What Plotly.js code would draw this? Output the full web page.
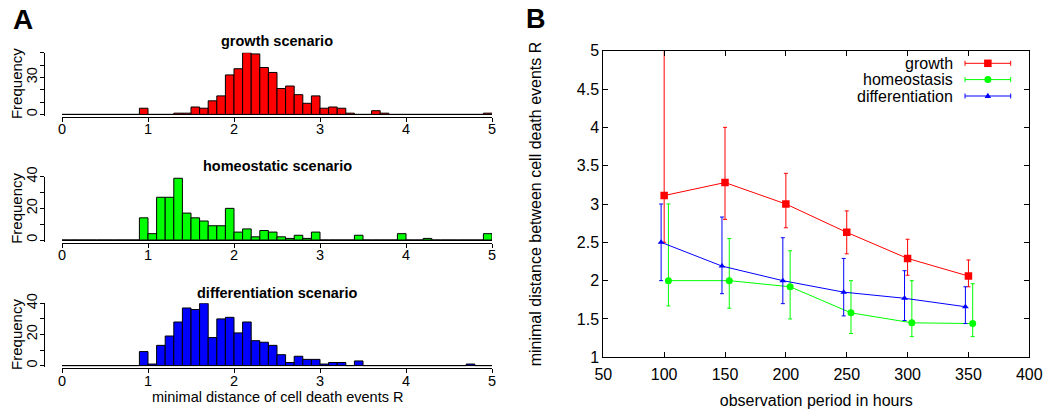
<!DOCTYPE html>
<html><head><meta charset="utf-8">
<script src="https://cdn.plot.ly/plotly-3.0.1.min.js"></script>
<style>html,body{margin:0;padding:0;background:#fff;} #chart{width:1048px;height:410px;}</style>
</head><body><div id="chart"></div>
<script>
// ---------------- Panel A: histogram counts (50 bins of width 0.1, from 0 to 5) ----------------
const binWidth = 0.1;
const growthCounts = [
  0,0,0,0,0,0,0,0,0,5,
  0,0,0,1,1,6,5,11,15,32,
  37,50,49,38,34,21,23,16,9,15,
  5,6,5,1,0,0,3,1,0,0,
  0,0,0,0,0,0,0,0,0,1];
const homeostaticCounts = [
  0,0,0,0,0,0,0,0,0,14,
  4,27,27,39,17,14,12,9,9,20,
  5,7,2,6,5,2,1,3,1,5,
  0,0,0,0,3,0,0,0,0,4,
  0,0,1,0,0,0,0,0,0,4];
const differentiationCounts = [
  0,0,0,0,0,0,0,0,0,9,
  1,13,19,28,37,36,40,18,30,31,
  21,28,16,15,13,7,2,6,4,4,
  1,2,2,0,3,0,0,0,0,0,
  0,0,0,0,0,0,0,1,0,0];
const histTitles = ['growth scenario', 'homeostatic scenario', 'differentiation scenario'];
const histXTicks = [0, 1, 2, 3, 4, 5];
const growthYTicks = [0, 10, 20, 30, 40, 50];
const growthYLabels = ['0', '', '', '30', '', ''];
const otherYTicks = [0, 10, 20, 30, 40];
const otherYLabels = ['0', '', '20', '', '40'];
const histYTitle = 'Frequency';
const histXTitle = 'minimal distance of cell death events R';

// ---------------- Panel B: mean minimal distance vs observation period ----------------
const seriesNames = ['growth', 'homeostasis', 'differentiation'];
const growthHours = [100, 150, 200, 250, 300, 350];
const growthR     = [3.11, 3.28, 3.00, 2.63, 2.29, 2.06];
const growthHigh  = [5.60, 4.00, 3.40, 2.91, 2.54, 2.27];
const growthLow   = [2.50, 2.80, 2.69, 2.35, 2.07, 1.92];
const homeoHours  = [103.5, 153.5, 203.5, 253.5, 303.5, 353.5];
const homeoR      = [2.00, 2.00, 1.92, 1.58, 1.45, 1.44];
const homeoHigh   = [3.00, 2.55, 2.39, 2.00, 2.00, 1.96];
const homeoLow    = [1.67, 1.64, 1.50, 1.31, 1.27, 1.27];
const diffHours   = [97.5, 147.5, 197.5, 247.5, 297.5, 347.5];
const diffR       = [2.50, 2.19, 2.00, 1.85, 1.77, 1.66];
const diffHigh    = [3.00, 2.83, 2.56, 2.29, 2.13, 1.92];
const diffLow     = [2.00, 1.83, 1.70, 1.54, 1.48, 1.44];

// ---------------- helpers (layout only) ----------------
const W = 1048, H = 410;
const px = v => v / W;
const py = v => (H - v) / H;
const FONT = 'Liberation Sans, Arial, Helvetica, sans-serif';
const RED = '#ff0000', GREEN = '#00ff00', BLUE = '#0000ff';

const hists = [
  {counts: growthCounts, color: RED, xa: 'x', ya: 'y', base: 114.4, top: 52.7, ymax: 50,
   tv: growthYTicks, tt: growthYLabels, titleY: 40.7},
  {counts: homeostaticCounts, color: GREEN, xa: 'x2', ya: 'y2', base: 240, top: 176.7, ymax: 40,
   tv: otherYTicks, tt: otherYLabels, titleY: 165.7},
  {counts: differentiationCounts, color: BLUE, xa: 'x3', ya: 'y3', base: 365.6, top: 303.3, ymax: 40,
   tv: otherYTicks, tt: otherYLabels, titleY: 292.7}
];

const data = [];
const layout = {
  width: W, height: H,
  margin: {l: 0, r: 0, t: 0, b: 0},
  paper_bgcolor: '#fff', plot_bgcolor: 'rgba(0,0,0,0)',
  font: {family: FONT, color: '#000', size: 14.5},
  showlegend: false,
  bargap: 0,
  annotations: [], shapes: []
};

const histLeft = 62, histRight = 492, histYAxisX = 44;
hists.forEach((h, k) => {
  const centers = h.counts.map((_, i) => (i + 0.5) * binWidth);
  data.push({
    type: 'bar', x: centers, y: h.counts, width: binWidth,
    xaxis: h.xa, yaxis: h.ya,
    marker: {color: h.color, line: {color: '#000', width: 1}},
    hoverinfo: 'x+y'
  });
  const pxPerCount = (h.base - h.top) / h.ymax;
  const yLow = -0.03 * h.ymax;
  const bottomPx = h.base - yLow * pxPerCount;
  const xName = k === 0 ? 'xaxis' : 'xaxis' + (k + 1);
  const yName = k === 0 ? 'yaxis' : 'yaxis' + (k + 1);
  layout[xName] = {
    domain: [px(histLeft), px(histRight)], range: [0, 5],
    anchor: 'free', position: py(h.base + 2.6),
    showline: true, linecolor: '#000', linewidth: 1,
    ticks: 'outside', ticklen: 4, tickwidth: 1, tickcolor: '#000',
    tickvals: histXTicks, showgrid: false, zeroline: false, ticklabelstandoff: -5,
    tickfont: {size: 14.5, family: FONT, color: '#000'},
    fixedrange: true
  };
  layout[yName] = {
    domain: [py(bottomPx), py(h.top)], range: [yLow, h.ymax],
    anchor: 'free', position: px(histYAxisX),
    showline: true, linecolor: '#000', linewidth: 1,
    ticks: 'outside', ticklen: 4, tickwidth: 1, tickcolor: '#000',
    tickvals: h.tv, ticktext: h.tt, tickangle: -90, ticklabelstandoff: -3,
    showgrid: false, zeroline: true, zerolinecolor: '#000', zerolinewidth: 1,
    tickfont: {size: 14.5, family: FONT, color: '#000'},
    fixedrange: true
  };
  // y-axis title ("Frequency"), placed like R's mtext
  layout.annotations.push({
    text: histYTitle, xref: 'paper', yref: 'paper', textangle: -90,
    x: px(16.5), y: py((h.base + h.top) / 2), xanchor: 'center', yanchor: 'middle',
    showarrow: false, font: {size: 15, family: FONT, color: '#000'}
  });
  layout.annotations.push({
    text: '<b>' + histTitles[k] + '</b>', xref: 'paper', yref: 'paper',
    x: px((histLeft + histRight) / 2), y: py(h.titleY), xanchor: 'center', yanchor: 'middle',
    showarrow: false, font: {size: 14.5, family: FONT, color: '#000'}
  });
});
// x-axis title of the bottom histogram
layout.annotations.push({
  text: histXTitle, xref: 'paper', yref: 'paper',
  x: px((histLeft + histRight) / 2), y: py(397), xanchor: 'center', yanchor: 'middle',
  showarrow: false, font: {size: 14.5, family: FONT, color: '#000'}
});

// Panel labels
layout.annotations.push({text: '<b>A</b>', xref: 'paper', yref: 'paper', x: px(11), y: py(19),
  xanchor: 'left', yanchor: 'middle', showarrow: false, font: {size: 28, family: FONT, color: '#000'}});
layout.annotations.push({text: '<b>B</b>', xref: 'paper', yref: 'paper', x: px(524), y: py(19),
  xanchor: 'left', yanchor: 'middle', showarrow: false, font: {size: 27, family: FONT, color: '#000'}});

// ---------------- Panel B traces ----------------
const diffs = (a, b) => a.map((v, i) => v - b[i]);
const bSeries = [
  {name: seriesNames[0], x: growthHours, y: growthR, hi: growthHigh, lo: growthLow, color: RED, symbol: 'square', size: 7.5},
  {name: seriesNames[1], x: homeoHours, y: homeoR, hi: homeoHigh, lo: homeoLow, color: GREEN, symbol: 'circle', size: 7},
  {name: seriesNames[2], x: diffHours, y: diffR, hi: diffHigh, lo: diffLow, color: BLUE, symbol: 'triangle-up', size: 6}
];
bSeries.forEach(s => {
  data.push({
    type: 'scatter', mode: 'lines+markers', name: s.name,
    x: s.x, y: s.y, xaxis: 'x4', yaxis: 'y4',
    line: {color: s.color, width: 1},
    marker: {color: s.color, symbol: s.symbol, size: s.size, line: {width: 0}},
    error_y: {type: 'data', symmetric: false, array: diffs(s.hi, s.y), arrayminus: diffs(s.y, s.lo),
      color: s.color, thickness: 1, width: 2}
  });
});

const bLeft = 603.3, bRight = 1029.3, bTop = 50.7, bBottom = 357.3;
layout.xaxis4 = {
  domain: [px(bLeft), px(bRight)], range: [50, 400], anchor: 'y4',
  dtick: 50, tick0: 50, ticks: 'inside', ticklen: 5, tickwidth: 1, tickcolor: '#000',
  showline: true, mirror: 'allticks', linecolor: '#000', linewidth: 1,
  showgrid: false, zeroline: false, ticklabelstandoff: 2,
  tickfont: {size: 16, family: FONT, color: '#000'},
  title: {text: 'observation period in hours', font: {size: 16, family: FONT, color: '#000'}, standoff: 13},
  fixedrange: true
};
layout.yaxis4 = {
  domain: [py(bBottom), py(bTop)], range: [1, 5], anchor: 'x4',
  dtick: 0.5, tick0: 1, ticks: 'inside', ticklen: 5, tickwidth: 1, tickcolor: '#000',
  showline: true, mirror: 'allticks', linecolor: '#000', linewidth: 1,
  showgrid: false, zeroline: false,
  tickfont: {size: 16, family: FONT, color: '#000'},
  title: {text: 'minimal distance between cell death events R', font: {size: 16, family: FONT, color: '#000'}, standoff: 31},
  fixedrange: true
};

// ---------------- Panel B legend (drawn like the gnuplot key: text, then sample) ----------------
const keyTextRight = 955, keyX0 = 965, keyX1 = 1010.7, keyYs = [63.3, 79.6, 96];
bSeries.forEach((s, i) => {
  const yc = keyYs[i];
  layout.annotations.push({
    text: s.name, xref: 'paper', yref: 'paper', x: px(keyTextRight), y: py(yc),
    xanchor: 'right', yanchor: 'middle', showarrow: false,
    font: {size: 16, family: FONT, color: '#000'}
  });
  const ln = {color: s.color, width: 1};
  layout.shapes.push({type: 'line', xref: 'paper', yref: 'paper', x0: px(keyX0), x1: px(keyX1), y0: py(yc), y1: py(yc), line: ln});
  layout.shapes.push({type: 'line', xref: 'paper', yref: 'paper', x0: px(keyX0), x1: px(keyX0), y0: py(yc - 2.5), y1: py(yc + 2.5), line: ln});
  layout.shapes.push({type: 'line', xref: 'paper', yref: 'paper', x0: px(keyX1), x1: px(keyX1), y0: py(yc - 2.5), y1: py(yc + 2.5), line: ln});
  const mx = (keyX0 + keyX1) / 2, r = s.size / 2;
  if (s.symbol === 'square') {
    layout.shapes.push({type: 'rect', xref: 'paper', yref: 'paper', x0: px(mx - r), x1: px(mx + r), y0: py(yc + r), y1: py(yc - r),
      fillcolor: s.color, line: {width: 0}});
  } else if (s.symbol === 'circle') {
    layout.shapes.push({type: 'circle', xref: 'paper', yref: 'paper', x0: px(mx - r), x1: px(mx + r), y0: py(yc + r), y1: py(yc - r),
      fillcolor: s.color, line: {width: 0}});
  } else {
    const t = r * 1.1;
    layout.shapes.push({type: 'path', xref: 'paper', yref: 'paper',
      path: 'M ' + px(mx - t) + ' ' + py(yc + t * 0.6) + ' L ' + px(mx + t) + ' ' + py(yc + t * 0.6) + ' L ' + px(mx) + ' ' + py(yc - t) + ' Z',
      fillcolor: s.color, line: {width: 0}});
  }
});

Plotly.newPlot('chart', data, layout, {displayModeBar: false, staticPlot: true});
</script></body></html>
